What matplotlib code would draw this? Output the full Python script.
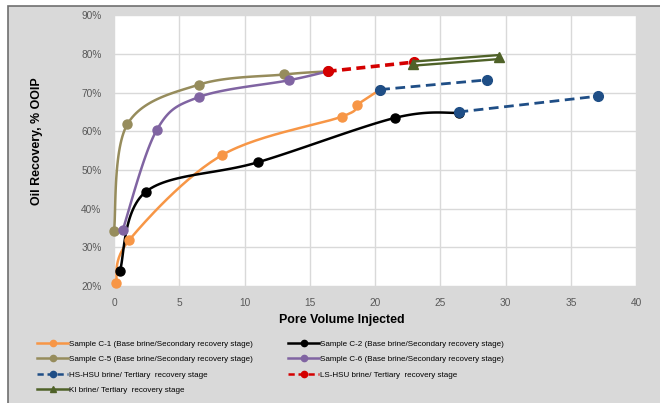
import matplotlib
matplotlib.use("Agg")
import matplotlib.pyplot as plt
from matplotlib.lines import Line2D
from matplotlib.patches import Rectangle
import numpy as np

# ---- data -------------------------------------------------------------
c1_pv = [0.15, 1.17, 8.25, 17.45, 18.6, 20.4]
c1_rec = [20.9, 31.9, 53.8, 63.8, 66.8, 70.8]

c2_pv = [0.46, 2.45, 11.03, 21.56, 26.4]
c2_rec = [24.0, 44.4, 52.0, 63.5, 64.8]

c5_pv = [0.0, 1.02, 6.54, 13.05, 16.37]
c5_rec = [34.2, 61.8, 72.1, 74.7, 75.5]

c6_pv = [0.66, 3.27, 6.54, 13.4, 16.37]
c6_rec = [34.4, 60.3, 68.9, 73.2, 75.5]

hs_a_pv = [20.4, 28.6]
hs_a_rec = [70.8, 73.3]
hs_b_pv = [26.4, 37.1]
hs_b_rec = [65.0, 69.1]

ls_pv = [16.37, 22.99]
ls_rec = [75.5, 77.9]

ki_pv = [22.9, 29.5]
ki_rec = [77.5, 79.2]

labels = [
    "Sample C-1 (Base brine/Secondary recovery stage)",
    "Sample C-2 (Base brine/Secondary recovery stage)",
    "Sample C-5 (Base brine/Secondary recovery stage)",
    "Sample C-6 (Base brine/Secondary recovery stage)",
    "HS-HSU brine/ Tertiary  recovery stage",
    "LS-HSU brine/ Tertiary  recovery stage",
    "KI brine/ Tertiary  recovery stage",
]

x_ticks = [0, 5, 10, 15, 20, 25, 30, 35, 40]
y_ticks = [20, 30, 40, 50, 60, 70, 80, 90]

# ---- style ------------------------------------------------------------
ORANGE = "#F79646"
BLACK = "#000000"
OLIVE = "#968C5C"
PURPLE = "#8064A2"
BLUE = "#1F4E86"
RED = "#D40000"
GREEN = "#4F6228"
GRID = "#D9D9D9"
BG = "#D9D9D9"
TXT = "#595959"

plt.rcParams["font.family"] = ["Liberation Sans", "DejaVu Sans"]

W, H = 660, 403
fig = plt.figure(figsize=(W / 100, H / 100), dpi=100, facecolor="white")

# chart frame
frame = Rectangle((8 / W, -0.05), 1.2, 1 - 6 / H + 0.05,
                  transform=fig.transFigure, facecolor=BG,
                  edgecolor="#6f6f6f", linewidth=1.2, zorder=-5)
fig.patches.append(frame)

left, right = 114 / W, 636 / W
top, bottom = 1 - 15.3 / H, 1 - 286 / H
ax = fig.add_axes([left, bottom, right - left, top - bottom], zorder=1)
ax.set_facecolor("white")
ax.set_xlim(0, 40)
ax.set_ylim(20, 90)
ax.set_xticks(x_ticks)
ax.set_yticks(y_ticks)
ax.set_xticklabels([str(t) for t in x_ticks])
ax.set_yticklabels([f"{t}%" for t in y_ticks])
ax.tick_params(length=0, labelsize=7.3, colors=TXT, pad=9)
ax.grid(True, color=GRID, linewidth=1.0)
ax.set_axisbelow(True)
for s in ax.spines.values():
    s.set_visible(False)


def smooth_curve(xs, ys, samples=30):
    """Smoothed line through the points (cubic Bezier, Catmull-Rom tangents),
    evaluated in display space so the bends follow the screen aspect."""
    pts = ax.transData.transform(np.column_stack([xs, ys]))
    n = len(pts)
    t = np.linspace(0, 1, samples)[:, None]
    pieces = [pts[:1]]
    for i in range(n - 1):
        p0 = pts[i - 1] if i > 0 else pts[i]
        p1 = pts[i]
        p2 = pts[i + 1]
        p3 = pts[i + 2] if i + 2 < n else pts[i + 1]
        c1 = p1 + (p2 - p0) / 6.0
        c2 = p2 - (p3 - p1) / 6.0
        seg = ((1 - t) ** 3) * p1 + 3 * ((1 - t) ** 2) * t * c1 \
            + 3 * (1 - t) * t ** 2 * c2 + t ** 3 * p2
        pieces.append(seg[1:])
    out = ax.transData.inverted().transform(np.vstack(pieces))
    return out[:, 0], out[:, 1]


def smooth_series(xs, ys, color, z):
    sx, sy = smooth_curve(xs, ys)
    ax.plot(sx, sy, color=color, lw=1.8, zorder=z, solid_capstyle="round",
            clip_on=False)
    ax.plot(xs, ys, ls="none", marker="o", ms=6.5, color=color, zorder=z + 0.5,
            clip_on=False)


smooth_series(c1_pv, c1_rec, ORANGE, 3)
smooth_series(c2_pv, c2_rec, BLACK, 3)
smooth_series(c5_pv, c5_rec, OLIVE, 3)
smooth_series(c6_pv, c6_rec, PURPLE, 3)

for xs, ys in [(hs_a_pv, hs_a_rec), (hs_b_pv, hs_b_rec)]:
    ax.plot(xs, ys, color=BLUE, lw=2, ls=(0, (3.5, 2)), marker="o", ms=7, zorder=5)

ax.plot(ls_pv, ls_rec, color=RED, lw=2.6, ls=(0, (2.5, 1.5)), marker="o", ms=7, zorder=5)

# double (compound) line for the KI stage
ax.plot(ki_pv, ki_rec, color=GREEN, lw=4.6, zorder=6, solid_capstyle="butt")
ax.plot(ki_pv, ki_rec, color="white", lw=1.2, zorder=6.2, solid_capstyle="butt")
ax.plot(ki_pv, ki_rec, ls="none", marker="^", ms=7, color=GREEN, zorder=6.5)

# axis titles
fig.text(342 / W, 1 - 320 / H, "Pore Volume Injected", ha="center", va="center",
         fontsize=8.9, fontweight="bold", color="black")
fig.text(37 / W, 1 - 141 / H, "Oil Recovery, % OOIP", ha="center", va="center",
         rotation=90, fontsize=8.9, fontweight="bold", color="black")

# legend
def handle(color, ls="-", marker="o", ms=4.5, lw=1.8):
    return Line2D([], [], color=color, ls=ls, marker=marker, ms=ms, lw=lw)

h = [
    handle(ORANGE), handle(BLACK), handle(OLIVE), handle(PURPLE),
    handle(BLUE, ls=(0, (2.5, 1.5))), handle(RED, ls=(0, (2.5, 1.5))),
    handle(GREEN, marker="^"),
]
leg_kw = dict(frameon=False, fontsize=5.8, handlelength=3.85, handletextpad=0.15,
              labelspacing=0.98, borderpad=0, borderaxespad=0, loc="upper left")
col1 = [0, 2, 4, 6]
col2 = [1, 3, 5]
fig.legend([h[i] for i in col1], [labels[i] for i in col1],
           bbox_to_anchor=(37 / W, 1 - 340 / H), **leg_kw)
fig.legend([h[i] for i in col2], [labels[i] for i in col2],
           bbox_to_anchor=(288 / W, 1 - 340 / H), **leg_kw)

fig.savefig("out.png", dpi=100, facecolor="white")
